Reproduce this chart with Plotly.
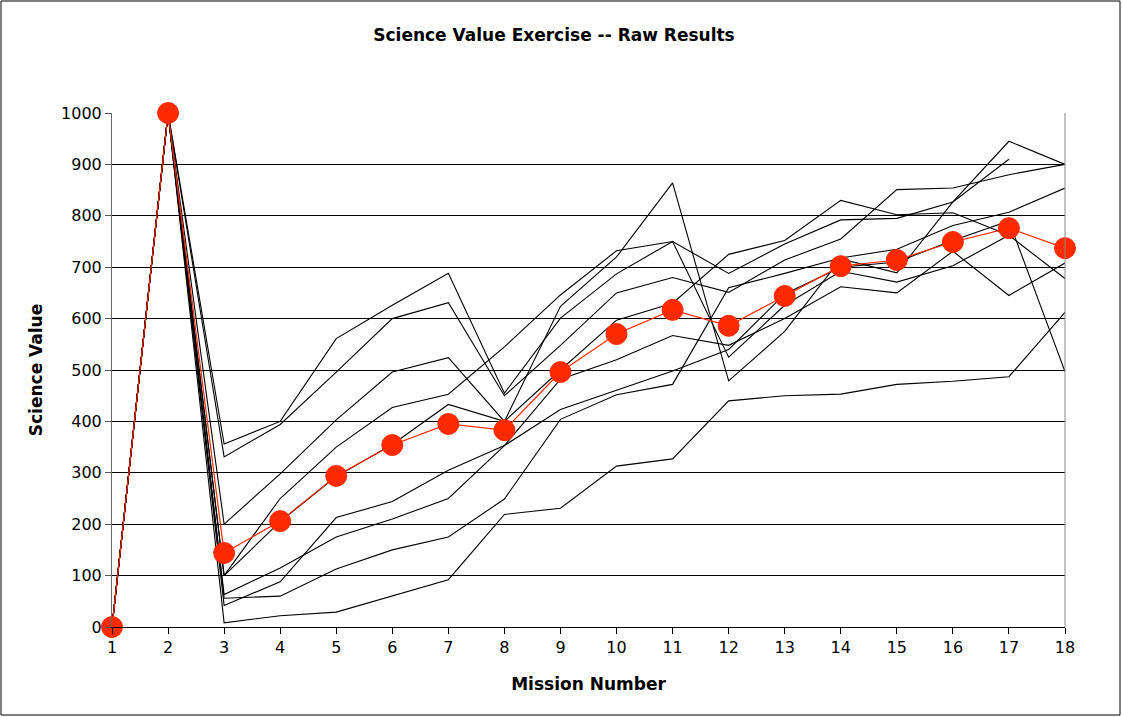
import plotly.graph_objects as go

# Mission numbers along the x axis
missions = list(range(1, 19))

# Raw science-value scores from each of the nine raters (None = no score given)
rater_1 = [0, 1000, 356, 400, 561, 626, 688, 455, 601, 687, 750, 525, 626, 692, 671, 703, 762, None]
rater_2 = [0, 1000, 331, 394, 496, 600, 631, 450, 548, 650, 680, 651, 714, 755, 851, 854, 880, 900]
rater_3 = [0, 1000, 200, 298, 403, 496, 524, 400, 624, 720, 864, 479, 575, 716, 689, 827, 945, 900]
rater_4 = [0, 1000, 100, 250, 350, 427, 453, 545, 646, 732, 750, 688, 745, 792, 795, 827, 910, None]
rater_5 = [0, 1000, 100, 205, 293, 355, 433, 400, 500, 597, 630, 725, 752, 830, 802, 806, 762, 678]
rater_6 = [0, 1000, 63, 115, 175, 210, 250, 353, 482, 520, 567, 548, 600, 662, 650, 731, 645, 708]
rater_7 = [0, 1000, 56, 60, 113, 150, 175, 249, 404, 452, 472, 660, 688, 718, 735, 781, 807, 854]
rater_8 = [0, 1000, 42, 88, 213, 244, 305, 353, 423, 460, 498, 540, 648, 700, 710, 752, 790, 497]
rater_9 = [0, 1000, 8, 22, 29, 60, 92, 219, 231, 313, 327, 440, 450, 453, 472, 478, 487, 612]

# Average score per mission
average = [0, 1000, 144, 206, 294, 354, 395, 383, 496, 570, 617, 586, 644, 702, 714, 749, 776, 737]

y_ticks = list(range(0, 1001, 100))

raters = [rater_1, rater_2, rater_3, rater_4, rater_5, rater_6, rater_7, rater_8, rater_9]

FONT = "DejaVu Sans, Verdana, sans-serif"
RED = "#FF2A00"

fig = go.Figure()

for i, scores in enumerate(raters, start=1):
    fig.add_trace(go.Scatter(
        x=missions, y=scores, mode="lines", name=f"Rater {i}",
        line=dict(color="black", width=1.1),
        hoverinfo="x+y",
    ))

fig.add_trace(go.Scatter(
    x=missions, y=average, mode="lines+markers", name="Average",
    line=dict(color=RED, width=1.2),
    marker=dict(symbol="circle", size=21, color=RED, line=dict(color=RED, width=1)),
    cliponaxis=False,
))

# plot-area geometry in pixels
W, H = 1122, 717
L, R, T, B = 112, 1065, 113, 627

fig.update_layout(
    width=W, height=H,
    margin=dict(l=L, r=W - R, t=T, b=H - B),
    plot_bgcolor="white", paper_bgcolor="white",
    showlegend=False,
    font=dict(family=FONT, color="black", size=16),
    title=dict(
        text="<b>Science Value Exercise -- Raw Results</b>",
        font=dict(family=FONT, size=17, color="black"),
        xref="container", yref="container",
        x=554 / W, y=1 - 35 / H, xanchor="center", yanchor="middle",
    ),
    xaxis=dict(
        range=[1, 18], tickvals=missions, ticktext=[str(m) for m in missions],
        ticks="outside", ticklen=6, tickcolor="black", tickwidth=1,
        showline=True, linecolor="black", linewidth=1,
        showgrid=False, zeroline=False,
        tickfont=dict(family=FONT, size=16, color="black"),
        title=dict(text="<b>Mission Number</b>", standoff=21,
                   font=dict(family=FONT, size=17, color="black")),
    ),
    yaxis=dict(
        range=[0, 1000], tickvals=y_ticks, ticktext=[str(v) for v in y_ticks],
        ticks="outside", ticklen=6, tickcolor="#555555", tickwidth=1,
        showline=True, linecolor="#666666", linewidth=1,
        showgrid=True, gridcolor="black", gridwidth=1,
        zeroline=False,
        tickfont=dict(family=FONT, size=16, color="black"),
        title=dict(text="<b>Science Value</b>", standoff=14,
                   font=dict(family=FONT, size=17, color="black")),
    ),
)

# right edge of the plot area
fig.add_shape(type="line", xref="paper", yref="paper", x0=1, x1=1, y0=0, y1=1,
              line=dict(color="#888888", width=1))

# outer frame around the whole chart
pw, ph = R - L, B - T
fig.add_shape(type="rect", xref="paper", yref="paper",
              x0=(1 - L) / pw, x1=(W - 2 - L) / pw,
              y0=(B - (H - 2)) / ph, y1=(B - 1) / ph,
              line=dict(color="black", width=1), fillcolor="rgba(0,0,0,0)",
              layer="below")

fig.write_html("out.html")
